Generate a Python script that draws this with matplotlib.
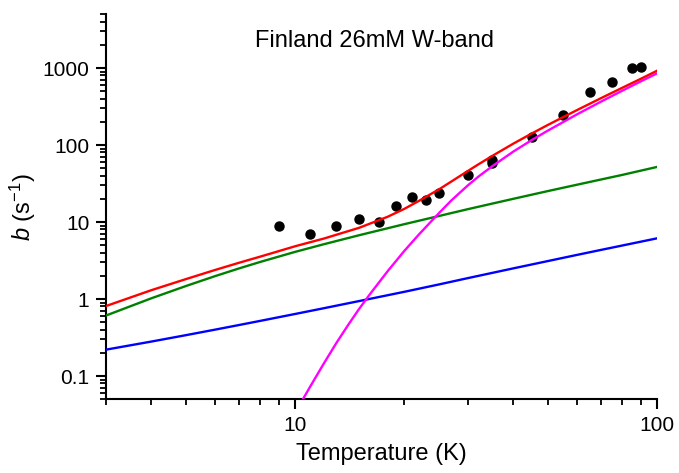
import matplotlib
matplotlib.use("Agg")
import matplotlib.pyplot as plt
from matplotlib.ticker import LogLocator, NullFormatter, FuncFormatter

plt.rcParams["font.family"] = ["Liberation Sans", "DejaVu Sans"]
plt.rcParams["mathtext.fontset"] = "custom"
plt.rcParams["mathtext.rm"] = "Liberation Sans"
plt.rcParams["mathtext.it"] = "Liberation Sans:italic"

# measured relaxation rates
T_meas = [9, 11, 13, 15, 17, 19, 21, 23, 25, 30, 35, 35, 45, 55, 65, 75, 85, 90]
b_meas = [8.9, 7.05, 8.95, 10.8, 10.0, 16.3, 21.3, 19.1, 23.6, 41, 58, 64,
          128, 243, 483, 658, 990, 1040]

# fit components
T_lin = [3, 4, 5, 6, 7, 8, 10, 12, 15, 20, 25, 30, 40, 50, 60, 70, 80, 100]
b_blue = [0.22, 0.28, 0.34, 0.40, 0.46, 0.52, 0.64, 0.76, 0.94, 1.24, 1.55,
          1.87, 2.5, 3.12, 3.74, 4.35, 4.95, 6.15]
b_green = [0.61, 1.02, 1.48, 1.98, 2.5, 3.03, 4.1, 5.15, 6.73, 9.37, 12.0,
           14.7, 20.0, 25.3, 30.5, 35.7, 40.9, 52]

T_orb = [10.5, 11, 12, 13, 14, 15, 16, 18, 20, 22, 25, 27, 30, 32, 35, 40,
         45, 50, 60, 70, 80, 90, 100]
b_orb = [0.05, 0.073, 0.146, 0.27, 0.46, 0.74, 1.12, 2.3, 4.2, 6.96, 13.2,
         19.1, 30, 38.6, 53, 82, 116, 155, 250, 367, 507, 670, 855]

T_tot = [3, 4, 5, 6, 7, 8, 10, 12, 15, 18, 20, 22, 25, 27, 30, 32, 35, 40,
         45, 50, 60, 70, 80, 90, 100]
b_tot = [0.81, 1.30, 1.82, 2.38, 2.96, 3.55, 4.85, 6.1, 8.4, 11.7, 14.8,
         18.9, 26.7, 33.6, 46.1, 55.8, 72.1, 104, 141, 183.6, 284, 407, 553,
         723, 925]

fig = plt.figure(figsize=(6.79, 4.73), dpi=100)
ax = fig.add_axes([0.156, 0.156, 0.812, 0.814])

ax.plot(T_meas, b_meas, "o", color="black", ms=6.5, zorder=2)
lw = 1.7
ax.plot(T_lin, b_blue, color="#0000ff", lw=lw, zorder=3)
ax.plot(T_lin, b_green, color="#008000", lw=lw, zorder=3)
ax.plot(T_orb, b_orb, color="#ff00ff", lw=lw, zorder=3)
ax.plot(T_tot, b_tot, color="#ff0000", lw=lw, zorder=4)

ax.set_xscale("log")
ax.set_yscale("log")
ax.set_xlim(3, 100)
ax.set_ylim(0.05, 5000)

for side in ("top", "right"):
    ax.spines[side].set_visible(False)
for side in ("left", "bottom"):
    ax.spines[side].set_linewidth(1.5)

plain = FuncFormatter(lambda v, _: f"{v:g}")
for axis in (ax.xaxis, ax.yaxis):
    axis.set_major_locator(LogLocator(base=10, numticks=10))
    axis.set_minor_locator(LogLocator(base=10, subs=range(2, 10), numticks=20))
    axis.set_major_formatter(plain)
    axis.set_minor_formatter(NullFormatter())
ax.tick_params(which="major", direction="out", length=7, width=1.5,
               labelsize=15, colors="black", pad=5)
ax.tick_params(which="minor", direction="out", length=4, width=1.3)

ax.set_xlabel("Temperature (K)", fontsize=17, labelpad=6)
ax.set_ylabel(r"$b$ (s$^{-1}$)", fontsize=17, labelpad=3)
ax.text(0.488, 0.96, "Finland 26mM W-band", transform=ax.transAxes,
        ha="center", va="top", fontsize=17)

fig.savefig("out.png", dpi=100)
